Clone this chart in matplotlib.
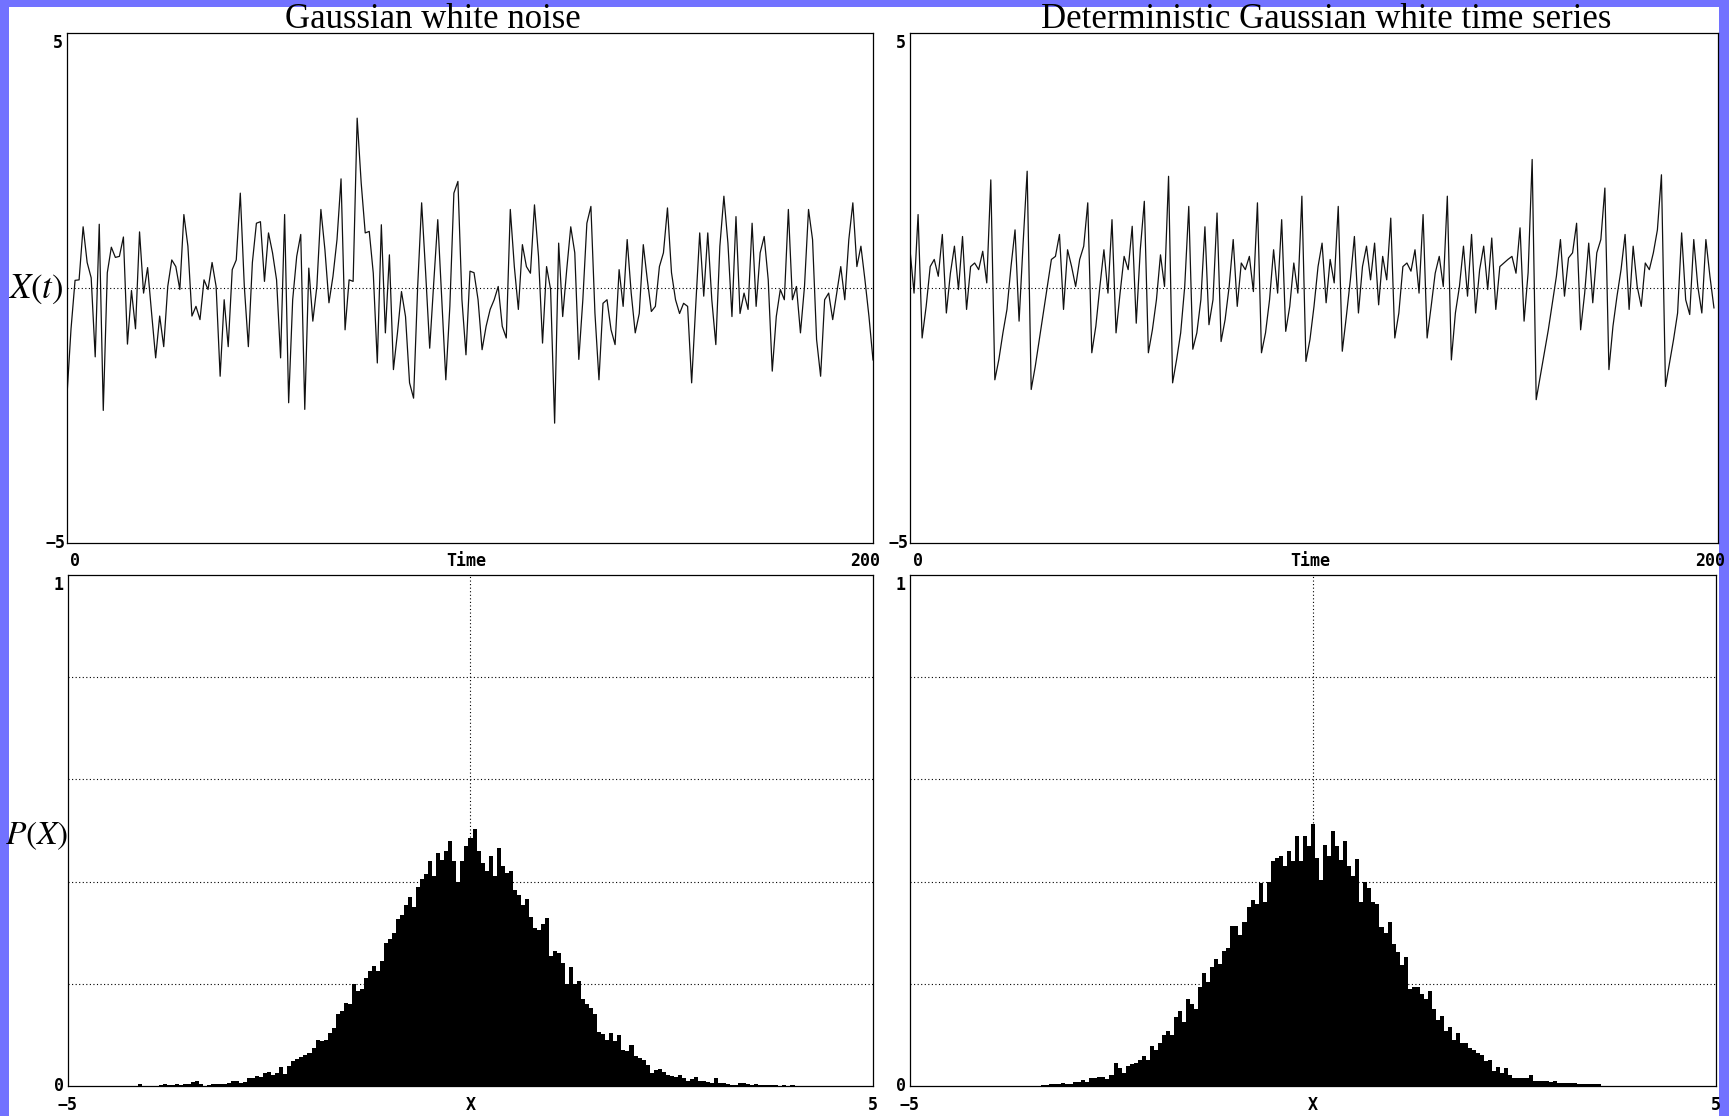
import numpy as np
import matplotlib
matplotlib.use("Agg")
import matplotlib.pyplot as plt
from matplotlib.patches import Rectangle

# ---- data ------------------------------------------------------------
# Gaussian white noise, t = 0..200
noise_ts = [
    -2.1, -0.8, 0.15, 0.16, 1.2, 0.5, 0.2, -1.35, 1.25, -2.4,
    0.3, 0.8, 0.6, 0.62, 1.0, -1.1, -0.05, -0.8, 1.1, -0.1,
    0.4, -0.5, -1.37, -0.55, -1.15, 0.03, 0.55, 0.42, -0.03, 1.44,
    0.82, -0.55, -0.36, -0.62, 0.16, -0.03, 0.5, 0.03, -1.73, -0.23,
    -1.15, 0.36, 0.55, 1.86, 0.03, -1.15, 0.5, 1.27, 1.3, 0.13,
    1.08, 0.69, 0.16, -1.37, 1.44, -2.25, -0.23, 0.62, 1.05, -2.38,
    0.39, -0.65, 0.03, 1.54, 0.75, -0.29, 0.23, 0.95, 2.14, -0.82,
    0.16, 0.13, 3.33, 2.06, 1.08, 1.11, 0.29, -1.47, 1.24, -0.88,
    0.65, -1.6, -0.88, -0.07, -0.56, -1.86, -2.16, 0.0, 1.67, 0.29,
    -1.18, 0.1, 1.34, -0.23, -1.8, -0.36, 1.86, 2.09, -0.23, -1.31,
    0.33, 0.3, -0.23, -1.21, -0.75, -0.42, -0.23, 0.03, -0.75, -0.98,
    1.54, 0.42, -0.42, 0.85, 0.42, 0.29, 1.63, 0.62, -1.08, 0.42,
    -0.03, -2.65, 0.88, -0.56, 0.36, 1.2, 0.69, -1.4, -0.23, 1.27,
    1.6, -0.49, -1.8, -0.3, -0.23, -0.82, -1.11, 0.36, -0.36, 0.95,
    -0.1, -0.88, -0.5, 0.85, 0.16, -0.46, -0.36, 0.42, 0.69, 1.57,
    0.3, -0.23, -0.5, -0.3, -0.36, -1.86, -0.36, 1.08, -0.16, 1.08,
    -0.23, -1.11, 0.82, 1.8, 0.88, -0.56, 1.4, -0.5, -0.1, -0.42,
    1.27, -0.36, 0.69, 1.01, 0.16, -1.63, -0.56, -0.03, -0.23, 1.54,
    -0.23, 0.03, -0.88, 0.03, 1.54, 0.95, -1.01, -1.73, -0.23, -0.1,
    -0.62, -0.1, 0.42, -0.23, 0.95, 1.67, 0.42, 0.82, 0.16, -0.56,
    -1.41,
]

# deterministic Gaussian white time series, t = 0..199
determ_ts = [
    0.75, -0.1, 1.44, -0.98, -0.36, 0.42, 0.56, 0.23, 1.05, -0.49,
    0.29, 0.82, -0.03, 1.01, -0.42, 0.42, 0.49, 0.36, 0.72, 0.1,
    2.12, -1.8, -1.4, -0.88, -0.42, 0.42, 1.14, -0.65, 0.88, 2.29,
    -1.99, -1.54, -1.01, -0.49, 0.03, 0.56, 0.62, 1.05, -0.42, 0.75,
    0.42, 0.03, 0.56, 0.82, 1.67, -1.27, -0.75, 0.03, 0.75, -0.1,
    1.34, -0.88, -0.1, 0.62, 0.36, 1.21, -0.69, 0.75, 1.7, -1.27,
    -0.82, -0.23, 0.65, 0.03, 2.19, -1.86, -1.4, -0.88, 0.03, 1.6,
    -1.2, -0.88, -0.23, 1.2, -0.72, -0.23, 1.47, -1.05, -0.62, 0.03,
    0.95, -0.36, 0.49, 0.36, 0.62, -0.07, 1.67, -1.27, -0.88, -0.23,
    0.75, -0.1, 1.34, -0.85, -0.36, 0.49, -0.1, 1.8, -1.44, -1.01,
    -0.36, 0.42, 0.88, -0.29, 0.56, 0.1, 1.6, -1.24, -0.56, 0.16,
    1.01, -0.49, 0.42, 0.82, 0.16, 0.88, -0.33, 0.62, 0.16, 1.37,
    -0.98, -0.49, 0.42, 0.49, 0.33, 0.75, -0.1, 1.44, -0.98, -0.36,
    0.29, 0.62, 0.03, 1.8, -1.41, -0.49, 0.03, 0.82, -0.16, 1.05,
    -0.49, 0.36, 0.82, -0.03, 0.98, -0.42, 0.42, 0.49, 0.56, 0.62,
    0.29, 1.18, -0.65, 0.3, 2.52, -2.19, -1.73, -1.27, -0.82, -0.29,
    0.23, 0.95, -0.16, 0.59, 0.69, 1.27, -0.82, -0.1, 0.88, -0.29,
    0.69, 0.95, 1.96, -1.6, -0.75, -0.16, 0.36, 1.05, -0.42, 0.82,
    0.03, -0.36, 0.49, 0.36, 0.69, 1.14, 2.22, -1.93, -1.47, -1.01,
    -0.49, 1.08, -0.23, -0.52, 0.95, 0.03, -0.49, 0.95, 0.23, -0.39,
]

BIN_W = 0.05

# histogram of the noise, bins centred from -4.10 upward
noise_hist_lo = -4.10
noise_hist = [
    0.003, 0.0, 0.0, 0.0, 0.0, 0.001, 0.003, 0.002, 0.002, 0.003,
    0.002, 0.003, 0.004, 0.007, 0.009, 0.004, 0.0, 0.001, 0.004, 0.004,
    0.004, 0.004, 0.005, 0.009, 0.01, 0.006, 0.008, 0.015, 0.016, 0.02,
    0.018, 0.025, 0.028, 0.022, 0.026, 0.038, 0.024, 0.04, 0.049, 0.052,
    0.057, 0.06, 0.064, 0.075, 0.09, 0.088, 0.09, 0.104, 0.114, 0.14,
    0.146, 0.162, 0.16, 0.2, 0.186, 0.19, 0.212, 0.225, 0.235, 0.225,
    0.245, 0.28, 0.288, 0.3, 0.326, 0.334, 0.355, 0.37, 0.35, 0.39,
    0.405, 0.415, 0.44, 0.41, 0.456, 0.443, 0.46, 0.479, 0.44, 0.40,
    0.44, 0.47, 0.486, 0.502, 0.46, 0.436, 0.42, 0.45, 0.41, 0.465,
    0.43, 0.416, 0.42, 0.384, 0.374, 0.354, 0.365, 0.331, 0.31, 0.305,
    0.318, 0.328, 0.255, 0.265, 0.26, 0.24, 0.2, 0.232, 0.2, 0.206,
    0.17, 0.16, 0.153, 0.14, 0.105, 0.102, 0.09, 0.104, 0.088, 0.1,
    0.07, 0.068, 0.081, 0.058, 0.055, 0.05, 0.041, 0.025, 0.032, 0.033,
    0.028, 0.022, 0.02, 0.018, 0.022, 0.015, 0.01, 0.014, 0.018, 0.01,
    0.009, 0.007, 0.006, 0.015, 0.005, 0.005, 0.003, 0.002, 0.002, 0.005,
    0.005, 0.003, 0.002, 0.003, 0.002, 0.001, 0.002, 0.001, 0.002, 0.0,
    0.001, 0.0, 0.002,
]

# histogram of the deterministic series, bins centred from -3.50 upward
determ_hist_lo = -3.50
determ_hist = [
    0.0, 0.0, 0.0, 0.001, 0.001, 0.003, 0.003, 0.003, 0.005, 0.003,
    0.003, 0.007, 0.007, 0.012, 0.008, 0.015, 0.015, 0.018, 0.018, 0.013,
    0.022, 0.045, 0.035, 0.025, 0.04, 0.043, 0.045, 0.051, 0.058, 0.05,
    0.078, 0.07, 0.084, 0.1, 0.107, 0.099, 0.135, 0.147, 0.126, 0.17,
    0.16, 0.15, 0.193, 0.222, 0.203, 0.232, 0.249, 0.239, 0.265, 0.27,
    0.314, 0.314, 0.295, 0.321, 0.35, 0.364, 0.357, 0.397, 0.36, 0.4,
    0.44, 0.446, 0.45, 0.43, 0.459, 0.44, 0.489, 0.44, 0.489, 0.47,
    0.512, 0.446, 0.403, 0.472, 0.45, 0.499, 0.47, 0.443, 0.48, 0.43,
    0.41, 0.445, 0.36, 0.40, 0.387, 0.36, 0.357, 0.311, 0.3, 0.321,
    0.278, 0.262, 0.236, 0.252, 0.19, 0.193, 0.193, 0.18, 0.17, 0.186,
    0.15, 0.13, 0.137, 0.107, 0.115, 0.09, 0.104, 0.085, 0.084, 0.075,
    0.07, 0.064, 0.06, 0.048, 0.05, 0.03, 0.038, 0.025, 0.035, 0.022,
    0.015, 0.015, 0.015, 0.016, 0.022, 0.01, 0.009, 0.009, 0.009, 0.008,
    0.009, 0.005, 0.005, 0.005, 0.005, 0.005, 0.003, 0.003, 0.003, 0.003,
    0.003, 0.003,
]

titles = ["Gaussian white noise", "Deterministic Gaussian white time series"]

# ---- layout (pixel boxes of the 1729x1116 reference) ------------------
W, H = 1729, 1116
BORDER = "#7272ff"
TICK_FONT = dict(family="DejaVu Sans Mono", weight="bold", size=12)
DOT = (0, (1, 2.2))

plt.rcParams["mathtext.fontset"] = "stix"


def px_axes(fig, x0, y0, x1, y1):
    return fig.add_axes([x0 / W, 1 - y1 / H, (x1 - x0) / W, (y1 - y0) / H])


def frame(ax):
    ax.set_xticks([])
    ax.set_yticks([])
    for s in ax.spines.values():
        s.set_linewidth(0.9)
        s.set_color("black")


def label(ax, text, xy, dx, dy, ha, va):
    ax.annotate(text, xy=xy, xycoords="axes fraction", xytext=(dx, dy),
                textcoords="offset points", ha=ha, va=va,
                annotation_clip=False, **TICK_FONT)


fig = plt.figure(figsize=(W / 100, H / 100), dpi=100, facecolor="white")
# blue frame on left, top and right edges
for x, y, w, h in [(0, 0, 9, H), (0, 0, W, 7), (W - 10, 0, 10, H)]:
    fig.patches.append(Rectangle((x / W, 1 - (y + h) / H), w / W, h / H,
                                 transform=fig.transFigure, facecolor=BORDER,
                                 edgecolor="none", zorder=-5))

ts_boxes = [(67, 33, 873, 543), (910, 33, 1718, 543)]
hist_boxes = [(68, 575, 873, 1086), (910, 575, 1716, 1086)]
series = [noise_ts, determ_ts]
hists = [(noise_hist_lo, noise_hist), (determ_hist_lo, determ_hist)]

for i in range(2):
    # ---- time series --------------------------------------------------
    ax = px_axes(fig, *ts_boxes[i])
    y = np.asarray(series[i])
    ax.axhline(0, color="black", lw=0.8, ls=DOT, zorder=1)
    ax.plot(np.arange(len(y)), y, color="#111111", lw=0.9, zorder=2)
    ax.set_xlim(0, 200)
    ax.set_ylim(-5, 5)
    frame(ax)
    label(ax, "5", (0, 1), -3, -1, "right", "top")
    label(ax, "\u22125", (0, 0), -1, 0, "right", "center")
    label(ax, "0", (0, 0), 2, -13, "left", "center")
    label(ax, "Time", (0.5, 0), -3, -13, "center", "center")
    label(ax, "200", (1, 0), 5, -13, "right", "center")

    # ---- histogram ----------------------------------------------------
    hx = px_axes(fig, *hist_boxes[i])
    lo, h = hists[i]
    centers = lo + BIN_W * np.arange(len(h))
    for g in [0.2, 0.4, 0.6, 0.8]:
        hx.axhline(g, color="black", lw=0.8, ls=DOT, zorder=1)
    hx.axvline(0, color="black", lw=0.8, ls=DOT, zorder=1)
    hx.bar(centers, h, width=BIN_W, color="black", linewidth=0, zorder=2)
    hx.set_xlim(-5, 5)
    hx.set_ylim(0, 1)
    frame(hx)
    label(hx, "1", (0, 1), -3, -1, "right", "top")
    label(hx, "0", (0, 0), -3, 0, "right", "center")
    label(hx, "\u22125", (0, 0), 0, -14, "center", "center")
    label(hx, "X", (0.5, 0), 0, -14, "center", "center")
    label(hx, "5", (1, 0), 0, -14, "center", "center")

fig.text(433 / W, 1 - 19 / H, titles[0], ha="center", va="center",
         family="Liberation Serif", size=25)
fig.text(1326 / W, 1 - 19 / H, titles[1], ha="center", va="center",
         family="Liberation Serif", size=25)
fig.text(36 / W, 1 - 289 / H, r"$X(t)$", ha="center", va="center", size=25)
fig.text(37 / W, 1 - 835 / H, r"$P(X)$", ha="center", va="center", size=24)

fig.savefig("out.png", dpi=100)
